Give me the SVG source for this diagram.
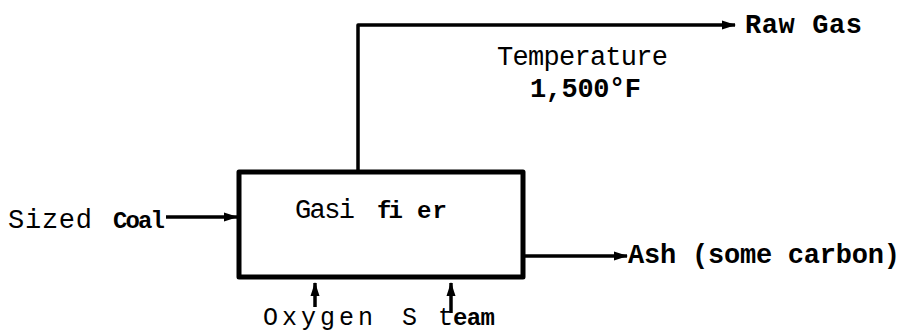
<svg xmlns="http://www.w3.org/2000/svg" width="907" height="332" viewBox="0 0 907 332">
  <style>
    .t { font-family: "Liberation Mono", "Courier New", monospace; font-size: 27px; fill: #000; }
    .b { font-weight: bold; }
    .s { font-size: 24px; }
    .ln { fill: none; stroke: #000; stroke-width: 3.5; stroke-linejoin: round; }
    .box { fill: #fff; stroke: #000; stroke-width: 5; stroke-linejoin: round; }
  </style>
  <defs>
    <marker id="arr" viewBox="0 0 14 12" refX="13" refY="6" markerWidth="14" markerHeight="12" markerUnits="userSpaceOnUse" orient="auto">
      <path d="M0,1.5 L14,6 L0,10.5 Z" fill="#000"/>
    </marker>
  </defs>

  <g id="connectors">
    <!-- raw gas off the top of the gasifier -->
    <path class="ln" d="M358,172 L358,25 L735,25" marker-end="url(#arr)"/>
    <!-- coal feed -->
    <path class="ln" d="M166,217 L237,217" marker-end="url(#arr)"/>
    <!-- ash discharge -->
    <path class="ln" d="M523,262 L523,256 L627,256" marker-end="url(#arr)"/>
    <!-- oxygen and steam feeds -->
    <path class="ln" d="M315,307 L315,283" marker-end="url(#arr)"/>
    <path class="ln" d="M451,313 L451,283" marker-end="url(#arr)"/>
  </g>

  <g id="gasifier">
    <rect class="box" x="239" y="172" width="284" height="105"/>
    <text class="t" x="295" y="218" textLength="60">Gasi</text>
    <text class="t b s" x="377" y="218" textLength="26">fi</text>
    <text class="t b s" x="417" y="218" textLength="30">er</text>
  </g>

  <g id="raw-gas">
    <text class="t b" x="745" y="33" textLength="117">Raw Gas</text>
  </g>

  <g id="temperature">
    <text class="t" x="497" y="65" textLength="171">Temperature</text>
    <text class="t b" x="530" y="97" textLength="111">1,500°F</text>
  </g>

  <g id="sized-coal">
    <text class="t" x="8" y="228" textLength="84">Sized</text>
    <text class="t b s" x="113" y="228" textLength="52">Coal</text>
  </g>

  <g id="ash">
    <text class="t b" x="628" y="263" textLength="272">Ash (some carbon)</text>
  </g>

  <g id="oxygen">
    <text class="t" x="263" y="325" textLength="110" style="font-size:25px">Oxygen</text>
  </g>

  <g id="steam">
    <text class="t" x="402" y="325" textLength="51" style="font-size:25px">S t</text>
    <text class="t b s" x="453" y="325" textLength="42">eam</text>
  </g>
</svg>
